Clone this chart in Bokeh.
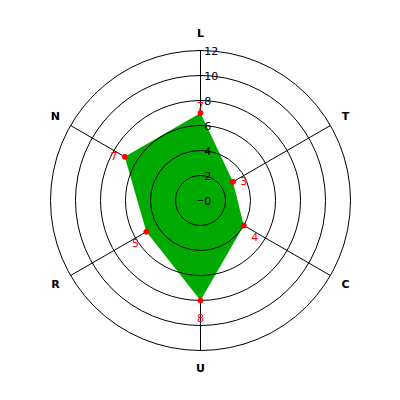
import numpy as np
from bokeh.plotting import figure
from bokeh.core.properties import value
from bokeh.embed import file_html
from bokeh.resources import INLINE

categories = ["L", "T", "C", "U", "R", "N"]
values = [7, 3, 4, 8, 5, 7]
ring_values = [0, 2, 4, 6, 8, 10, 12]
ring_labels = ["0", "2", "4", "6", "8", "10", "12"]
r_max = 12

n = len(categories)
angles = np.deg2rad(90 - 360.0 * np.arange(n) / n)

scale = 12.5  # px per unit
p = figure(width=384, height=384, output_backend="svg", toolbar_location=None,
           x_range=(-200 / scale, 184 / scale), y_range=(-184 / scale, 200 / scale),
           min_border=0, match_aspect=False)
p.axis.visible = False
p.grid.visible = False
p.outline_line_color = None
p.background_fill_color = "white"

# axis spokes
p.segment(x0=[0] * n, y0=[0] * n, x1=list(r_max * np.cos(angles)),
          y1=list(r_max * np.sin(angles)), line_color="black", line_width=1)

# data polygon
vx = [v * np.cos(a) for v, a in zip(values, angles)]
vy = [v * np.sin(a) for v, a in zip(values, angles)]
p.patch(vx, vy, fill_color="#00aa00", line_color=None)

# rings
rings = [r for r in ring_values if r > 0]
p.circle(x=[0] * len(rings), y=[0] * len(rings), radius=rings,
         fill_color=None, line_color="black", line_width=1)

# ring ticks on L axis
p.segment(x0=[-0.22] * len(ring_values), y0=ring_values,
          x1=[0.22] * len(ring_values), y1=ring_values, line_color="black")
p.text(x=[0.3] * len(ring_values), y=ring_values, text=ring_labels,
       text_font=value("DejaVu Sans"), text_font_size="11px",
       text_color="black", text_align="left", text_baseline="middle")

# category labels
lr = 13.4
p.text(x=list(lr * np.cos(angles)), y=list(lr * np.sin(angles)), text=categories,
       text_font=value("DejaVu Sans"), text_font_size="11px", text_font_style="bold",
       text_color="black", text_align="center", text_baseline="middle")

# markers
p.scatter(vx, vy, size=5, fill_color="red", line_color="red")

# value labels
lx = [(v + 1) * np.cos(a) for v, a in zip(values, angles)]
ly = [(v + 1) * np.sin(a) for v, a in zip(values, angles)]
p.text(x=lx, y=ly, text=[str(v) for v in values], y_offset=5,
       text_font=value("DejaVu Sans"), text_font_size="11px",
       text_color="red", text_align="center", text_baseline="middle")

open("out.html", "w").write(file_html(p, INLINE))
